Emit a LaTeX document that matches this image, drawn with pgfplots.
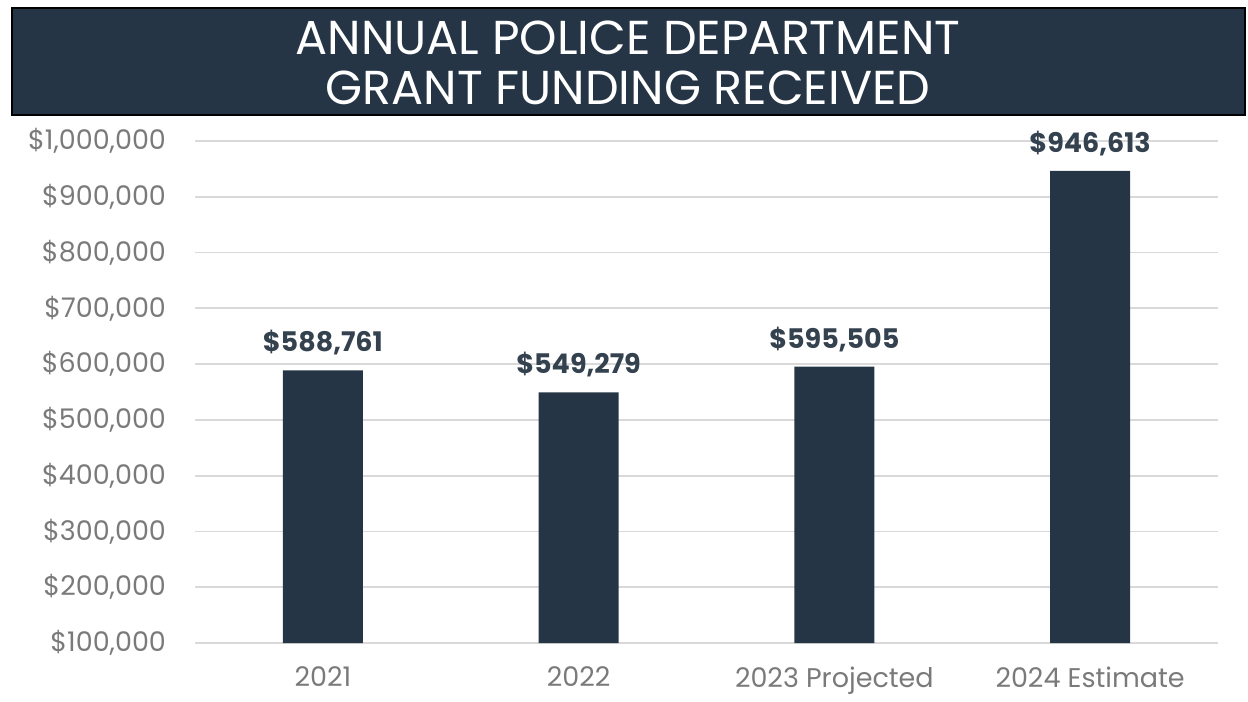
\documentclass[border=0pt]{standalone}
\usepackage{fontspec}
\setmainfont{Poppins}
\usepackage{pgfplots}
\pgfplotsset{compat=1.18}
\definecolor{navy}{HTML}{263545}
\definecolor{labnavy}{HTML}{34414F}
\definecolor{tickgray}{HTML}{7A7A7A}
\definecolor{gridgray}{HTML}{D9D9D9}
\begin{document}
\begin{tikzpicture}[x=1pt,y=1pt]
% page frame: 1248x692 px at 0.5pt per px
\path (0,0) rectangle (624,346);
% title banner
\draw[fill=navy, draw=black, line width=1pt] (6,288.5) rectangle (622.5,342);
\node[text=white, font=\fontsize{23.8}{25}\selectfont, align=center] at (314,314.5)
  {ANNUAL POLICE DEPARTMENT\\GRANT FUNDING RECEIVED};
\begin{axis}[
    at={(97.5pt,24.5pt)}, anchor=south west,
    scale only axis,
    width=511.5pt, height=251pt,
    xmin=-0.5, xmax=3.5,
    ymin=100000, ymax=1000000,
    scaled y ticks=false,
    ytick={100000,200000,300000,400000,500000,600000,700000,800000,900000,1000000},
    yticklabels={{\$100,000},{\$200,000},{\$300,000},{\$400,000},{\$500,000},{\$600,000},{\$700,000},{\$800,000},{\$900,000},{\$1,000,000}},
    xtick={0,1,2,3},
    xticklabels={2021,2022,2023 Projected,2024 Estimate},
    axis line style={draw=none},
    major tick length=0pt,
    ymajorgrids,
    major grid style={gridgray, line width=0.9pt},
    tick label style={font=\fontsize{13.5}{15}\selectfont, text=tickgray},
    yticklabel style={xshift=-11pt},
    xticklabel style={yshift=-8.5pt},
    nodes near coords,
    point meta=explicit symbolic,
    every node near coord/.style={font=\bfseries\fontsize{13.5}{15}\selectfont, text=labnavy, yshift=4pt},
]
\addplot[ybar, bar width=40pt, bar shift=0pt, fill=navy, draw=none]
  coordinates {(0,588761)[\$588,761] (1,549279)[\$549,279] (2,595505)[\$595,505] (3,946613)[\$946,613]};
\end{axis}
\end{tikzpicture}
\end{document}
